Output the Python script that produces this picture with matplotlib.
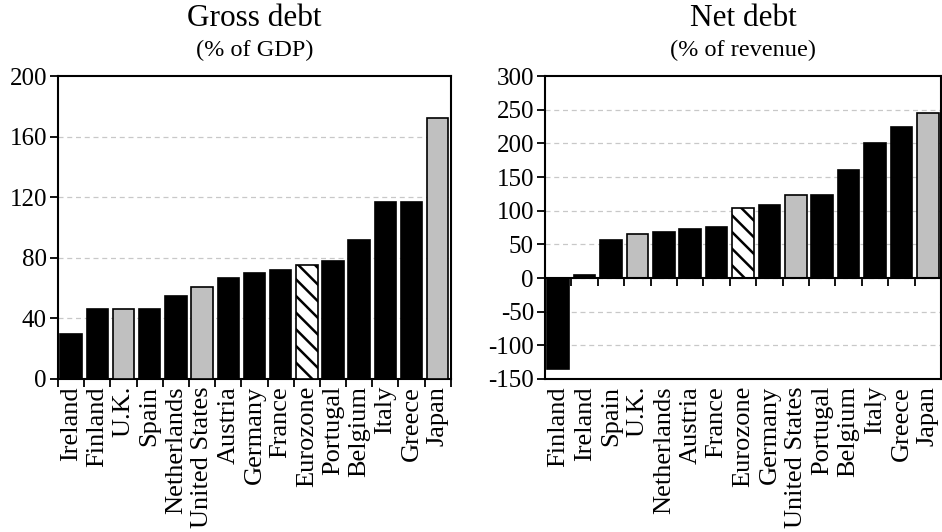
import matplotlib
matplotlib.use('Agg')
import matplotlib.pyplot as plt
import numpy as np

plt.rcParams['font.family'] = ['Liberation Serif', 'DejaVu Serif']
plt.rcParams['axes.unicode_minus'] = False
plt.rcParams['hatch.linewidth'] = 1.8

# gross debt, % of GDP
gross_countries = ['Ireland', 'Finland', 'U.K.', 'Spain', 'Netherlands', 'United States',
                   'Austria', 'Germany', 'France', 'Eurozone', 'Portugal', 'Belgium',
                   'Italy', 'Greece', 'Japan']
gross_values = [30, 46, 46, 46, 55, 61, 67, 70, 72, 75, 78, 92, 117, 117, 172]

# net debt, % of revenue
net_countries = ['Finland', 'Ireland', 'Spain', 'U.K.', 'Netherlands', 'Austria', 'France',
                 'Eurozone', 'Germany', 'United States', 'Portugal', 'Belgium', 'Italy',
                 'Greece', 'Japan']
net_values = [-135, 5, 57, 66, 68, 73, 76, 104, 109, 123, 124, 160, 201, 225, 245]

# non-eurozone countries grey, the eurozone average hatched
grey_set = ['U.K.', 'United States', 'Japan']
hatch_set = ['Eurozone']


def draw_panel(ax, names, vals, yticks, title, sub):
    x = np.arange(len(names))
    for i, (n, v) in enumerate(zip(names, vals)):
        if n in grey_set:
            ax.bar(x[i], v, 0.82, color='#c0c0c0', edgecolor='black', linewidth=1.2, zorder=3)
        elif n in hatch_set:
            ax.bar(x[i], v, 0.82, color='white', edgecolor='black', hatch='\\\\',
                   linewidth=1.2, zorder=3)
        else:
            ax.bar(x[i], v, 0.82, color='black', edgecolor='black', linewidth=1.2, zorder=3)

    ax.set_xlim(-0.5, len(names) - 0.5)
    ax.set_ylim(yticks[0], yticks[-1])
    ax.set_yticks(yticks)
    ax.set_yticklabels([str(t) for t in yticks])
    ax.tick_params(axis='y', direction='out', length=6, width=1.3, labelsize=18, pad=2)

    ax.set_xticks(x)
    ax.set_xticklabels(names, rotation=90, fontsize=19)
    ax.tick_params(axis='x', which='major', length=0, pad=5)

    for t in yticks[1:-1]:
        ax.axhline(t, color='#c8c8c8', linestyle=(0, (4, 3)), linewidth=0.9, zorder=1)

    for s in ax.spines.values():
        s.set_linewidth(1.5)

    ax.text(0.5, 1.19, title, transform=ax.transAxes, ha='center', va='center', fontsize=22.5)
    ax.text(0.5, 1.085, sub, transform=ax.transAxes, ha='center', va='center', fontsize=17.5)
    return x


fig = plt.figure(figsize=(9.42, 5.32), dpi=100)
fig.set_facecolor('w')

ax1 = fig.add_axes([0.0616, 0.2876, 0.417, 0.5695])
x1 = draw_panel(ax1, gross_countries, gross_values, [0, 40, 80, 120, 160, 200],
                'Gross debt', '(% of GDP)')
ax1.set_xticks(np.arange(len(gross_countries) + 1) - 0.5, minor=True)
ax1.tick_params(axis='x', which='minor', direction='out', length=6, width=1.3)

ax2 = fig.add_axes([0.5786, 0.2876, 0.4204, 0.5695])
x2 = draw_panel(ax2, net_countries, net_values, [-150, -100, -50, 0, 50, 100, 150, 200, 250, 300],
                'Net debt', '(% of revenue)')
ax2.axhline(0, color='black', linewidth=1.5, zorder=4)
zero_pos = (0 - (-150)) / 450
sec = ax2.secondary_xaxis(zero_pos)
sec.set_xticks(np.arange(1, len(net_countries)) - 0.5)
sec.set_xticklabels([])
sec.tick_params(axis='x', direction='out', length=6, width=1.3)
sec.spines['bottom'].set_visible(False)

fig.savefig('out.png', dpi=100)
plt.close()
